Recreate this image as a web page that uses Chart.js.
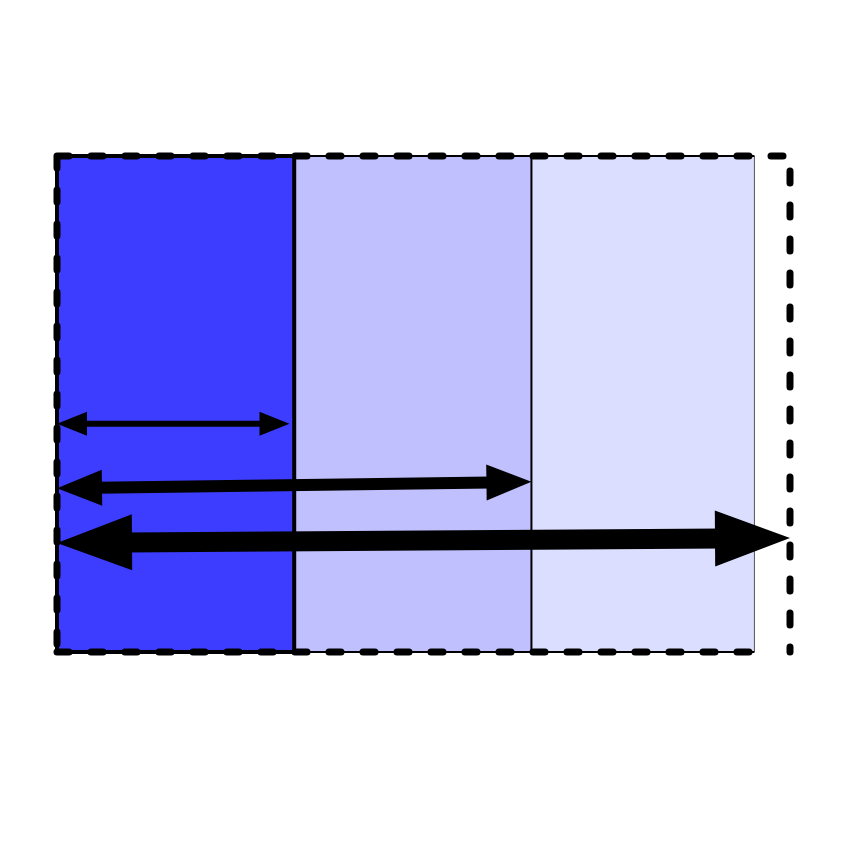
<!DOCTYPE html>
<html><head><script src="https://cdn.jsdelivr.net/npm/chart.js"></script>
<style>body{margin:0;background:#fff}#w{width:850px;height:850px}</style></head>
<body><div id="w"><canvas id="c"></canvas></div>
<script>
const bandEdges=[0,1,2,2.94];
const bandColors=['#3d3dff','#c0c0ff','#dcdeff'];
const outerX=[0,3.09];
const arrowStart=[[0,0.46],[0,0.33],[0,0.22]];
const arrowEnd=[[0.98,0.46],[2.0,0.343],[3.09,0.23]];
const arrowWidth=[6,12,20];
const arrowHead=[[30,12],[45,18],[75,28]];

const diagram={id:'diagram',afterDatasetsDraw(ch){
 const c=ch.ctx,x=ch.scales.x,y=ch.scales.y;
 const X=v=>x.getPixelForValue(v),Y=v=>y.getPixelForValue(v);
 c.save();
 for(let i=0;i<3;i++){c.fillStyle=bandColors[i];c.fillRect(X(bandEdges[i]),Y(1),X(bandEdges[i+1])-X(bandEdges[i]),Y(0)-Y(1));}
 c.strokeStyle='#000';
 c.lineWidth=2;c.beginPath();c.moveTo(X(2),Y(1));c.lineTo(X(2),Y(0));c.stroke();
 c.lineWidth=1;c.strokeStyle='#555';c.beginPath();c.moveTo(X(2.94),Y(1));c.lineTo(X(2.94),Y(0));c.stroke();
 c.strokeStyle='#000';c.lineWidth=2;c.beginPath();c.moveTo(X(1),Y(1));c.lineTo(X(2.94),Y(1));c.moveTo(X(1),Y(0));c.lineTo(X(2.94),Y(0));c.stroke();
 c.lineWidth=4;c.strokeRect(X(0),Y(1),X(1)-X(0),Y(0)-Y(1));
 c.setLineDash([12,22]);c.lineWidth=7;c.lineCap='round';
 c.beginPath();c.moveTo(X(0),Y(1));c.lineTo(X(outerX[1]),Y(1));c.lineTo(X(outerX[1]),Y(0));
 c.moveTo(X(0),Y(0));c.lineTo(X(2.98),Y(0));c.moveTo(X(0),Y(1));c.lineTo(X(0),Y(0));c.stroke();
 c.setLineDash([]);c.lineCap='butt';c.fillStyle='#000';
 for(let i=0;i<3;i++){
  const x1=X(arrowStart[i][0]),y1=Y(arrowStart[i][1]),x2=X(arrowEnd[i][0]),y2=Y(arrowEnd[i][1]);
  const a=Math.atan2(y2-y1,x2-x1),[L,H]=arrowHead[i];
  const ux=Math.cos(a),uy=Math.sin(a);
  c.lineWidth=arrowWidth[i];c.beginPath();c.moveTo(x1+ux*L*0.9,y1+uy*L*0.9);c.lineTo(x2-ux*L*0.9,y2-uy*L*0.9);c.stroke();
  for(const [px,py,s] of [[x1,y1,1],[x2,y2,-1]]){
   const bx=px+s*ux*L,by=py+s*uy*L;
   c.beginPath();c.moveTo(px,py);c.lineTo(bx-uy*H,by+ux*H);c.lineTo(bx+uy*H,by-ux*H);c.closePath();c.fill();
  }
 }
 c.restore();
}};
new Chart(document.getElementById('c'),{type:'scatter',data:{datasets:[{data:[],pointRadius:0}]},
 options:{responsive:true,maintainAspectRatio:false,animation:false,
 layout:{padding:{left:57,right:60,top:156,bottom:198}},
 plugins:{legend:{display:false},tooltip:{enabled:false}},
 scales:{x:{type:'linear',min:0,max:3.09,display:false},y:{type:'linear',min:0,max:1,display:false}}},
 plugins:[diagram]});
</script></body></html>
